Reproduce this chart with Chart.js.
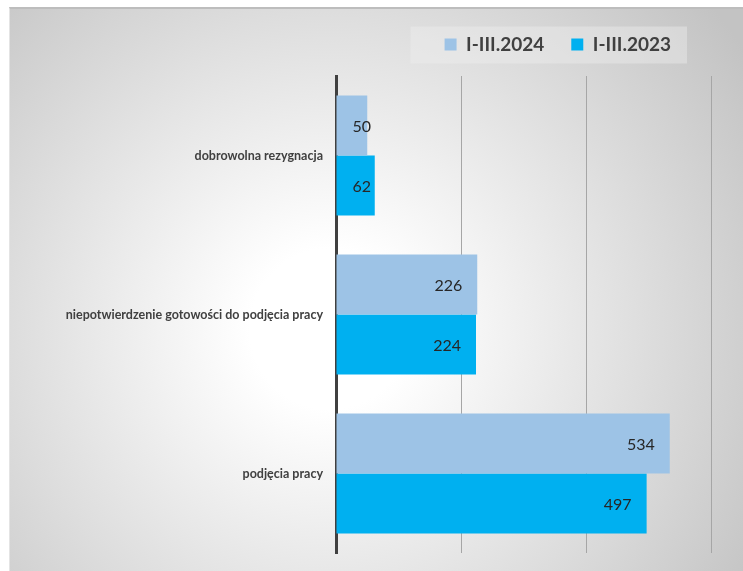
<!DOCTYPE html>
<html lang="pl">
<head>
<meta charset="UTF-8">
<title>Wyłączenia z ewidencji I-III</title>
<script src="https://cdn.jsdelivr.net/npm/chart.js"></script>
<style>
  html, body { margin: 0; padding: 0; background: #fff; overflow: hidden; }
  #tlo {
    position: absolute; left: 9px; top: 7px; width: 733px; height: 562px;
    border-top: 2px solid #bdbdbd; border-left: 1px solid #e4e4e4;
    background: radial-gradient(circle at 320px 320px, #ffffff 0px, #ffffff 80px, #c3c3c3 500px);
  }
  #wykres { position: absolute; left: 0; top: 0; }
</style>
</head>
<body>
<div id="tlo"></div>
<canvas id="wykres" width="743" height="571"></canvas>
<script>
const kategorie = ["dobrowolna rezygnacja", "niepotwierdzenie gotowości do podjęcia pracy", "podjęcia pracy"]
const serie = ["I-III.2024", "I-III.2023"]
const wartosci2024 = [50, 226, 534]
const wartosci2023 = [62, 224, 497]
const osX = [0, 200, 400, 600]

// etykiety z wartościami przy końcu słupka
const etykiety = {
  id: 'etykiety',
  afterDatasetsDraw(chart) {
    const c = chart.ctx
    const zero = chart.scales.x.getPixelForValue(0)
    c.save()
    c.font = '16px Lato'
    c.fillStyle = '#262626'
    c.textAlign = 'right'
    c.textBaseline = 'middle'
    chart.data.datasets.forEach((ds, i) => {
      chart.getDatasetMeta(i).data.forEach((bar, j) => {
        const x = Math.max(bar.x - 15, zero + 35)
        c.fillText(ds.data[j], x, bar.y + 1)
      })
    })
    c.restore()
  }
}

// przesunięcie legendy i jasne tło pod nią
const legendaTlo = {
  id: 'legendaTlo',
  afterLayout(chart) {
    chart.legend.left -= 13
    chart.legend.right -= 13
  },
  beforeDraw(chart) {
    const hb = chart.legend.legendHitBoxes
    if (!hb || !hb.length) return
    const a = hb[0], b = hb[hb.length - 1]
    const y = a.top + a.height / 2
    const c = chart.ctx
    c.save()
    c.fillStyle = 'rgba(240,240,240,0.4)'
    c.fillRect(a.left - 34, y - 18, b.left + b.width - a.left + 34 + 16, 37)
    c.restore()
  }
}

const ctx = document.getElementById('wykres')

let wykres = new Chart(ctx, {
  type: 'bar',
  data: {
    labels: kategorie,
    datasets: [{
      label: serie[0],
      data: wartosci2024,
      backgroundColor: '#9dc3e6'
    }, {
      label: serie[1],
      data: wartosci2023,
      backgroundColor: '#00b0f0'
    }]
  },
  options: {
    indexAxis: 'y',
    responsive: false,
    animation: false,
    categoryPercentage: 0.755,
    barPercentage: 1,
    layout: { padding: { top: 8, right: 32, bottom: 18, left: 0 } },
    scales: {
      x: {
        position: 'top',
        min: osX[0],
        max: osX[osX.length - 1],
        ticks: { display: false, stepSize: osX[1] - osX[0] },
        grid: { color: '#a6a6a6', lineWidth: 1, drawTicks: false },
        border: { display: false },
        afterFit: s => { s.height = 12 }
      },
      y: {
        grid: { display: false, drawTicks: false },
        border: { color: '#404040', width: 3 },
        ticks: {
          autoSkip: false,
          padding: 13,
          color: '#404040',
          font: { family: 'Lato', size: 12.5, weight: 'bold' }
        },
        afterFit: s => {
          s.width = 336
          s.paddingTop = 0
          s.paddingBottom = 0
        }
      }
    },
    plugins: {
      legend: {
        position: 'top',
        align: 'end',
        fullSize: false,
        labels: {
          boxWidth: 12,
          boxHeight: 12,
          padding: 27,
          color: '#404040',
          font: { family: 'Lato', size: 19, weight: 'bold' }
        }
      },
      tooltip: { enabled: false }
    }
  },
  plugins: [etykiety, legendaTlo]
})
</script>
</body>
</html>
